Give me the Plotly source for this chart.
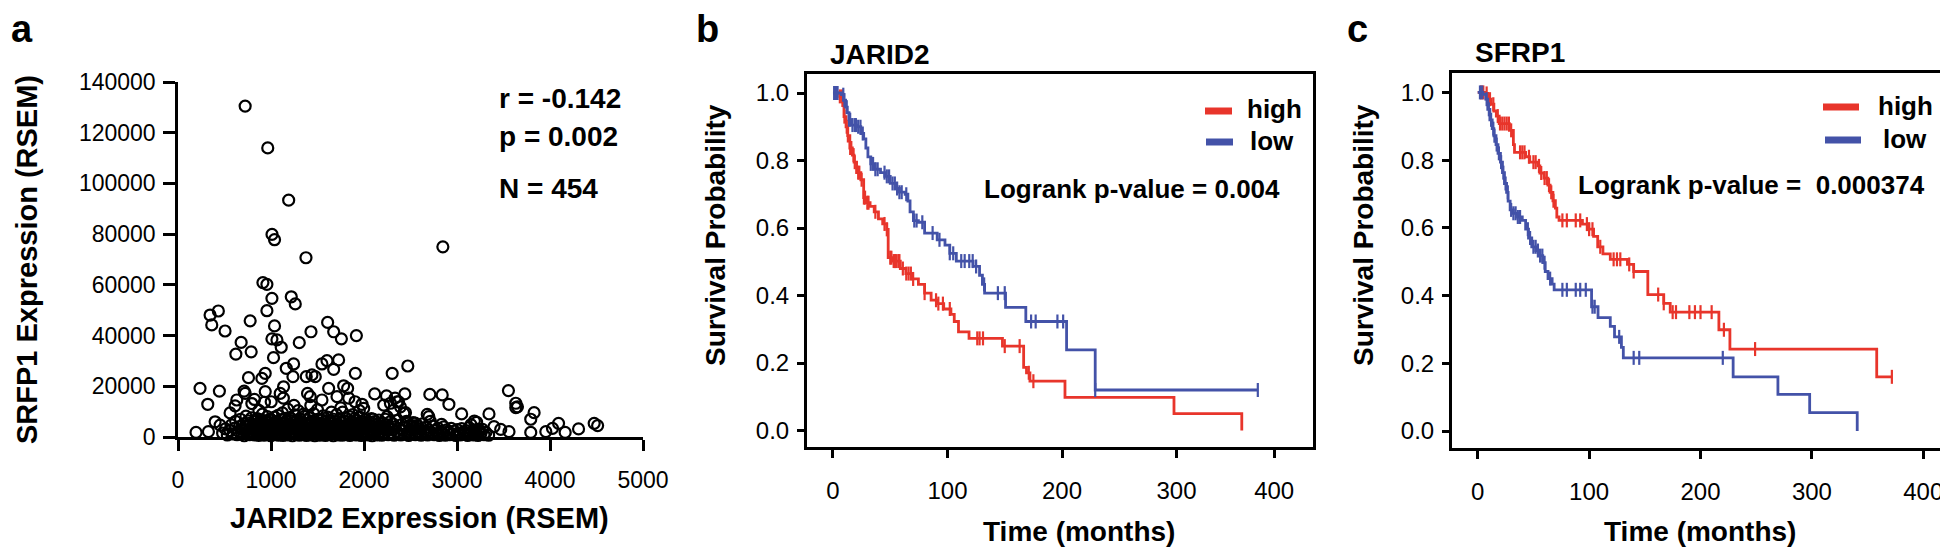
import numpy as np
import plotly.graph_objects as go

# The page body adds an 8px offset; the figure is sized and positioned to compensate.
OFF = 8
W, H = 1948 - OFF, 553 - OFF
FONT = "Liberation Sans, Arial, Helvetica, sans-serif"
RED = "#e8352b"
BLUE = "#4352a8"

# ---------------- Panel a: scatter (JARID2 vs SFRP1 expression) ----------------
outlier_x = [722, 965, 1190, 1011, 1038, 1376, 2848, 913, 956, 1010, 1218, 1261, 345, 434, 363, 506,
             956, 1038, 776, 1609, 1674, 1757, 1918, 1430, 1010, 1064, 1110, 679, 622, 787, 1304, 1027,
             1164, 1243, 1548, 1602, 1727, 1674, 1907, 758, 902, 938, 1236, 1379, 1440, 1476, 2303, 2471,
             237, 445, 320, 711, 938, 1135, 1099, 1393, 1422, 1620, 1710, 1781, 1824, 2115, 2242, 2439,
             632, 614, 722, 822, 794, 930, 399, 453, 194, 327, 1548, 1979, 1997, 2212, 2284, 2356, 2392,
             2428, 2249, 2320, 2708, 2841, 2913, 3553, 3632, 3650, 3632, 3829, 3793, 3344, 3050, 2680,
             2697, 2446, 3211, 3398, 3470, 3559, 3793, 3955, 4027, 4092, 4163, 4307, 4475, 4512, 2834,
             2550, 2520, 3187, 3150, 3232, 1247, 1292, 1428, 1133, 1002, 1836, 1904, 1950, 2099, 2371,
             2334, 870, 1180, 1500, 1650, 1750, 560, 1350, 1880]
outlier_y = [130500, 114000, 93400, 79900, 77800, 70700, 75000, 60900, 60200, 54700, 55300, 52500, 48100,
             49700, 44200, 41800, 49800, 43800, 45800, 45200, 41500, 38700, 40000, 41500, 38700, 38300,
             35400, 37300, 32700, 33600, 37200, 31300, 27100, 28800, 28800, 30100, 30400, 26700, 25100,
             23400, 23100, 25100, 23800, 23800, 24500, 23800, 25100, 28000, 19200, 18100, 12900, 18100,
             17900, 19800, 17200, 17200, 15900, 19200, 15900, 20200, 19200, 17000, 16200, 17000, 14600,
             12300, 17200, 14800, 13200, 13700, 6000, 4700, 1800, 2100, 14600, 12900, 11300, 12600, 13300,
             13900, 11900, 9300, 8000, 10600, 16800, 16600, 12900, 18300, 13300, 11900, 11600, 9600, 7000,
             9100, 9100, 8900, 8000, 9600, 5800, 4100, 3000, 2100, 1800, 2100, 3400, 5400, 1800, 3200,
             5400, 4500, 5000, 5500, 4500, 6300, 4900, 3100, 12500, 10400, 12500, 15300, 13900, 15300,
             13900, 10400, 7000, 13900, 15300, 10500, 11000, 10800, 9800, 11500, 9500, 9000, 8800]

band_x = [480, 510, 530, 560, 575, 590, 610, 620, 635, 650, 660, 672, 685, 695, 705, 712, 720, 731, 740,
          748, 756, 763, 770, 778, 785, 792, 798, 806, 812, 820, 826, 833, 840, 846, 852, 858, 865, 871,
          877, 883, 889, 895, 901, 907, 913, 919, 925, 931, 937, 943, 949, 955, 961, 967, 973, 979, 985,
          991, 997, 1003, 1009, 1015, 1021, 1027, 1033, 1039, 1045, 1051, 1057, 1063, 1069, 1075, 1081,
          1087, 1093, 1099, 1105, 1111, 1117, 1123, 1129, 1135, 1141, 1147, 1153, 1159, 1165, 1171, 1177,
          1183, 1189, 1195, 1201, 1207, 1213, 1219, 1225, 1231, 1237, 1243, 1249, 1255, 1261, 1267, 1273,
          1279, 1285, 1291, 1297, 1303, 1309, 1315, 1321, 1327, 1333, 1339, 1345, 1351, 1357, 1363, 1369,
          1375, 1381, 1387, 1393, 1399, 1405, 1411, 1417, 1423, 1429, 1435, 1441, 1447, 1453, 1459, 1465,
          1471, 1477, 1483, 1489, 1495, 1501, 1507, 1513, 1519, 1525, 1531, 1537, 1543, 1549, 1555, 1561,
          1567, 1573, 1579, 1585, 1591, 1597, 1603, 1609, 1615, 1621, 1627, 1633, 1639, 1645, 1651, 1657,
          1663, 1669, 1675, 1681, 1687, 1693, 1699, 1705, 1711, 1717, 1723, 1729, 1735, 1741, 1747, 1753,
          1759, 1765, 1771, 1777, 1783, 1789, 1795, 1801, 1807, 1813, 1819, 1825, 1831, 1837, 1843, 1849,
          1855, 1861, 1867, 1873, 1879, 1885, 1891, 1897, 1903, 1909, 1915, 1921, 1927, 1933, 1939, 1945,
          1951, 1957, 1963, 1969, 1975, 1981, 1987, 1993, 1999, 2008, 2016, 2024, 2032, 2040, 2048, 2056,
          2064, 2072, 2080, 2088, 2096, 2104, 2112, 2120, 2128, 2136, 2144, 2152, 2160, 2168, 2176, 2184,
          2192, 2200, 2210, 2220, 2230, 2240, 2250, 2260, 2270, 2280, 2290, 2300, 2312, 2324, 2336, 2348,
          2360, 2372, 2384, 2396, 2408, 2420, 2432, 2444, 2456, 2468, 2480, 2492, 2504, 2516, 2528, 2540,
          2552, 2564, 2576, 2588, 2600, 2614, 2628, 2642, 2656, 2670, 2684, 2698, 2712, 2726, 2740, 2754,
          2768, 2782, 2796, 2810, 2826, 2842, 2858, 2874, 2890, 2906, 2922, 2938, 2954, 2970, 2986, 3002,
          3018, 3034, 3050, 3066, 3082, 3098, 3114, 3130, 3146, 3162, 3178, 3194, 3210, 3226, 3242, 3258,
          3274, 3290, 3310, 3340]
band_y = [1500, 3200, 800, 2500, 4800, 1200, 3500, 6200, 900, 2200, 4100, 7000, 1600, 3000, 5200, 500,
          2600, 8200, 4400, 1400, 6400, 3100, 900, 5600, 2300, 7600, 1100, 4200, 3600, 6100, 800, 2900,
          5000, 1700, 7300, 3900, 600, 2600, 5800, 4500, 1300, 6800, 3300, 9000, 2000, 5400, 700, 3800,
          6300, 1500, 4800, 2700, 8000, 1000, 5900, 3400, 2100, 7100, 500, 4300, 6600, 1800, 3000, 5300,
          900, 7800, 2400, 4600, 1200, 6000, 3600, 8500, 700, 5100, 2800, 4000, 1500, 6900, 3200, 9500,
          600, 5600, 2200, 4400, 7400, 1100, 3700, 6200, 2600, 800, 5000, 3300, 7700, 1600, 4700, 2000,
          6500, 500, 3900, 5700, 1400, 8700, 2900, 4200, 1000, 6700, 3500, 2300, 5300, 700, 7200, 4000,
          1700, 3000, 6000, 900, 4800, 2500, 8100, 1300, 5500, 3400, 600, 6600, 2100, 4500, 1100, 7500,
          3100, 5100, 800, 2700, 6300, 4100, 1500, 9200, 3600, 500, 5800, 2300, 4600, 1200, 7000, 3200,
          1900, 5400, 700, 3800, 6900, 2600, 1000, 4900, 8300, 1700, 3500, 6100, 600, 2900, 5000, 1400,
          7800, 4300, 2200, 900, 6400, 3300, 5600, 1600, 2800, 7100, 500, 4000, 2500, 6000, 1200, 3700,
          8800, 1900, 5200, 800, 3100, 6700, 4500, 1500, 2400, 5800, 700, 9800, 3400, 1300, 6300, 4200,
          2000, 7400, 900, 3600, 5100, 1700, 2700, 8000, 600, 4700, 3000, 6100, 1400, 3900, 5500, 1000,
          7200, 2300, 4400, 800, 6600, 3200, 1800, 5000, 2600, 7900, 1100, 4100, 600, 6000, 3500, 2100,
          5300, 900, 3800, 6800, 1500, 4600, 2700, 800, 5700, 3100, 1900, 7300, 500, 4200, 2400, 6100,
          1200, 3600, 5000, 800, 2900, 6700, 1600, 4400, 2200, 700, 5500, 3300, 1300, 7000, 2600, 4800,
          900, 3700, 6000, 1800, 2900, 5200, 700, 4000, 2300, 6500, 1400, 3400, 800, 5000, 2500, 1100,
          3800, 6200, 1700, 600, 4500, 2800, 1300, 5700, 3500, 900, 2100, 4600, 1500, 3100, 700, 5200,
          2400, 1200, 3900, 800, 2700, 6200, 1600, 4300, 900, 2600, 1300, 3500, 600, 2200, 1500, 4000,
          700, 2800, 1800, 900, 3400, 1200, 2300, 600, 2900, 1500, 800, 3300, 1900, 1000, 2500, 600,
          3700, 1400, 2100, 800, 2800, 1200, 600, 2300, 1500, 3000, 900, 1800, 700]

jarid2_expr = outlier_x + band_x
sfrp1_expr = outlier_y + band_y

# ---------------- Panel b: JARID2 Kaplan-Meier ----------------
b_high_t = [0, 5.9, 8.5, 9.6, 11.4, 12.9, 14.7, 16.9, 18.4, 20.6, 24.3, 26.8, 29.4, 32.4, 36, 39.7, 43.4,
            47, 48.2, 52.6, 58.8, 63.6, 69, 74.6, 80, 85.7, 91, 96.7, 103, 105.9, 109.6, 118.8, 148,
            166.5, 169, 172, 202.6, 297.8, 357]
b_high_s = [1.0, 0.99, 0.963, 0.93, 0.90, 0.874, 0.837, 0.816, 0.795, 0.764, 0.743, 0.69, 0.675, 0.664,
            0.648, 0.627, 0.612, 0.596, 0.512, 0.502, 0.48, 0.465, 0.449, 0.433, 0.407, 0.386, 0.376,
            0.36, 0.344, 0.323, 0.292, 0.273, 0.25, 0.187, 0.171, 0.146, 0.098, 0.05, 0.0]
b_high_cens = [3, 6, 8, 10, 12, 13, 15, 16, 18, 19, 22, 23, 25, 27, 28, 30, 31, 37, 45, 47, 50, 51, 53,
               54, 55, 57, 58, 61, 64, 66, 68, 70, 80, 90, 92, 96, 102, 126, 128, 131, 150, 163, 171, 175]

b_low_t = [0, 7.4, 9.2, 11, 12.5, 14, 15.8, 21.3, 24.3, 26.8, 28.7, 30.5, 33, 36.8, 41.5, 45.2, 50, 54.4,
           58, 63, 65.4, 67.3, 70.2, 74.6, 80, 91, 97.8, 102, 107.7, 122.4, 128, 130.5, 132.4, 150.7,
           168.4, 204, 229, 371]
b_low_s = [1.0, 0.995, 0.979, 0.958, 0.942, 0.921, 0.905, 0.90, 0.88, 0.864, 0.837, 0.811, 0.79, 0.774,
           0.764, 0.753, 0.732, 0.717, 0.706, 0.70, 0.68, 0.648, 0.622, 0.617, 0.585, 0.565, 0.549, 0.525,
           0.502, 0.486, 0.46, 0.433, 0.407, 0.365, 0.323, 0.239, 0.12, 0.12]
b_low_cens = [1, 2, 3, 4, 9, 10, 12, 14, 15, 17, 19, 20, 22, 24, 26, 33, 35, 37, 39, 45, 47, 49, 52, 54,
              56, 58, 60, 64, 71, 73, 78, 87, 93, 102, 105, 112, 115, 119, 122, 125, 132, 144, 150, 173,
              177, 196, 201, 229, 371]

# ---------------- Panel c: SFRP1 Kaplan-Meier ----------------
c_high_t = [0, 6.5, 9, 12, 14.5, 16.7, 19.3, 28.4, 32, 33, 43, 46.7, 54, 55.8, 59.5, 63, 65, 67.5, 69.7,
            71, 73, 94, 99.7, 104, 107.7, 112.4, 119, 134.4, 140, 152.7, 167, 172.8, 216.5, 226.4, 358.2,
            371.8]
c_high_s = [1.0, 0.997, 0.98, 0.965, 0.945, 0.93, 0.908, 0.888, 0.846, 0.823, 0.81, 0.794, 0.783, 0.762,
            0.747, 0.726, 0.705, 0.68, 0.658, 0.632, 0.622, 0.611, 0.596, 0.575, 0.544, 0.523, 0.507,
            0.492, 0.471, 0.403, 0.377, 0.351, 0.299, 0.242, 0.160, 0.160]
c_high_cens = [3, 5, 8, 11, 14, 18, 20, 22, 24, 26, 28, 30, 38, 40, 42, 46, 50, 52, 55, 57, 60, 62, 64,
               66, 68, 76, 80, 88, 92, 98, 100, 103, 110, 122, 125, 128, 136, 140, 162, 167, 175, 178,
               190, 195, 200, 210, 221, 249, 371.8]

c_low_t = [0, 4.7, 7.2, 9, 10.9, 13, 14.5, 16.4, 18.2, 20.4, 22.2, 24, 25.9, 27.3, 29.1, 32, 35.7, 40, 43,
           45.6, 48.5, 52.1, 55.8, 58.4, 60.6, 63.1, 66.8, 68.6, 102.2, 108, 119, 122.8, 129, 130.7,
           229.3, 269.5, 298, 340.7]
c_low_s = [1.0, 0.994, 0.98, 0.95, 0.919, 0.893, 0.872, 0.846, 0.82, 0.794, 0.763, 0.731, 0.705, 0.679,
           0.653, 0.643, 0.632, 0.622, 0.596, 0.57, 0.544, 0.533, 0.518, 0.497, 0.471, 0.45, 0.434, 0.417,
           0.367, 0.335, 0.309, 0.278, 0.247, 0.216, 0.16, 0.108, 0.054, 0.0]
c_low_cens = [2, 4, 8, 10, 12, 14, 15, 17, 19, 21, 23, 25, 27, 30, 32, 34, 36, 38, 45, 47, 50, 52, 54, 56,
              58, 60, 65, 76, 80, 88, 92, 97, 103, 105, 127, 140, 145, 220]

x_ticks_b = [0, 100, 200, 300, 385.3]
x_ticktext = ["0", "100", "200", "300", "400"]
x_ticks_c = [0, 100, 200, 300, 400]
y_ticks_km = [0, 0.2, 0.4, 0.6, 0.8, 1.0]


def surv_at(times, surv, c):
    idx = np.searchsorted(np.array(times), c, side="right") - 1
    return [surv[i] for i in np.clip(idx, 0, len(surv) - 1)]


def px(x):
    return (x - OFF) / W


def py(y):
    return 1 - (y - OFF) / H


fig = go.Figure()

fig.add_trace(go.Scatter(
    x=jarid2_expr, y=sfrp1_expr, mode="markers", xaxis="x", yaxis="y", cliponaxis=False,
    marker=dict(symbol="circle-open", size=11, color="black", line=dict(width=2.2, color="black"))))

for (t, s, cens, col, xa, ya) in [
    (b_high_t, b_high_s, b_high_cens, RED, "x2", "y2"),
    (b_low_t, b_low_s, b_low_cens, BLUE, "x2", "y2"),
    (c_high_t, c_high_s, c_high_cens, RED, "x3", "y3"),
    (c_low_t, c_low_s, c_low_cens, BLUE, "x3", "y3"),
]:
    fig.add_trace(go.Scatter(x=t, y=s, mode="lines", line=dict(color=col, width=2.8, shape="hv"),
                             xaxis=xa, yaxis=ya, cliponaxis=False))
    fig.add_trace(go.Scatter(x=cens, y=surv_at(t, s, cens), mode="markers", xaxis=xa, yaxis=ya,
                             cliponaxis=False,
                             marker=dict(symbol="line-ns-open", size=10, color=col,
                                         line=dict(width=2.2, color=col))))

axis_common = dict(showgrid=False, zeroline=False, showline=True, linecolor="black", ticks="outside",
                   tickcolor="black", automargin=False)

fig.update_layout(
    template="none",
    width=W, height=H, margin=dict(l=0, r=0, t=0, b=0, pad=0, autoexpand=False),
    paper_bgcolor="white", plot_bgcolor="white", showlegend=False,
    font=dict(family=FONT, color="black"),
    xaxis=dict(axis_common, domain=[px(178), px(643)], range=[0, 5000], anchor="y",
               tickvals=[0, 1000, 2000, 3000, 4000, 5000], linewidth=2.5, tickwidth=2.5, ticklen=11,
               tickfont=dict(size=23, family=FONT, color="black"), ticklabelstandoff=10),
    yaxis=dict(axis_common, domain=[py(437), py(82)], range=[0, 140000], anchor="x",
               tickvals=list(range(0, 140001, 20000)), tickformat="d", linewidth=2.5, tickwidth=2.5,
               ticklen=12, tickfont=dict(size=23, family=FONT, color="black"), ticklabelstandoff=3),
    xaxis2=dict(axis_common, domain=[px(807), px(1313)], range=[-22.7, 419.2], anchor="y2", mirror=True,
                tickvals=x_ticks_b, ticktext=x_ticktext, linewidth=3, tickwidth=2.5, ticklen=8,
                tickfont=dict(size=24, family=FONT, color="black"), ticklabelstandoff=12),
    yaxis2=dict(axis_common, domain=[py(447), py(74)], range=[-0.0489, 1.0563], anchor="x2", mirror=True,
                tickvals=y_ticks_km, tickformat=".1f", linewidth=3, tickwidth=2.5, ticklen=7,
                tickfont=dict(size=24, family=FONT, color="black"), ticklabelstandoff=3),
    xaxis3=dict(axis_common, domain=[px(1452), px(1943)], range=[-23.1, 417.7], anchor="y3", mirror=True,
                tickvals=x_ticks_c, linewidth=3, tickwidth=2.5, ticklen=8,
                tickfont=dict(size=24, family=FONT, color="black"), ticklabelstandoff=12),
    yaxis3=dict(axis_common, domain=[py(448), py(73)], range=[-0.0502, 1.0573], anchor="x3", mirror=True,
                tickvals=y_ticks_km, tickformat=".1f", linewidth=3, tickwidth=2.5, ticklen=7,
                tickfont=dict(size=24, family=FONT, color="black"), ticklabelstandoff=3),
)


def ann(text, x, y, size, xanchor="center", yanchor="middle", angle=0):
    fig.add_annotation(text=text, x=px(x), y=py(y), xref="paper", yref="paper", showarrow=False,
                       xanchor=xanchor, yanchor=yanchor, textangle=angle,
                       font=dict(size=size, family=FONT, color="black"))


# panel letters
ann("<b>a</b>", 9, 29, 38, xanchor="left")
ann("<b>b</b>", 707, 29, 38)
ann("<b>c</b>", 1357, 29, 38)
# panel titles
ann("<b>JARID2</b>", 828, 54, 28, xanchor="left")
ann("<b>SFRP1</b>", 1473, 53, 28, xanchor="left")
# panel a stats
ann("<b>r = -0.142</b>", 497, 98, 28, xanchor="left")
ann("<b>p = 0.002</b>", 497, 137, 28, xanchor="left")
ann("<b>N = 454</b>", 497, 188, 28, xanchor="left")
# axis titles
ann("<b>SRFP1 Expression (RSEM)</b>", 27, 260, 29, angle=-90)
ann("<b>JARID2 Expression (RSEM)</b>", 419, 518, 29)
ann("<b>Survival Probability</b>", 715, 235, 28, angle=-90)
ann("<b>Survival Probability</b>", 1363, 235, 28, angle=-90)
ann("<b>Time (months)</b>", 1079, 531, 28)
ann("<b>Time (months)</b>", 1700, 531, 28)
# logrank
ann("<b>Logrank p-value = 0.004</b>", 982, 189, 26, xanchor="left")
ann("<b>Logrank p-value = &nbsp;0.000374</b>", 1576, 185, 26, xanchor="left")
# legends
ann("<b>high</b>", 1245, 109, 26, xanchor="left")
ann("<b>low</b>", 1248, 141, 26, xanchor="left")
ann("<b>high</b>", 1876, 106, 26, xanchor="left")
ann("<b>low</b>", 1881, 139, 26, xanchor="left")

for (x0, x1, y, col) in [(1205, 1232, 111, RED), (1206, 1233, 142, BLUE),
                         (1823, 1859, 107, RED), (1825, 1861, 140, BLUE)]:
    fig.add_shape(type="line", xref="paper", yref="paper", x0=px(x0), x1=px(x1), y0=py(y), y1=py(y),
                  line=dict(color=col, width=7))

fig.write_html("out.html")
